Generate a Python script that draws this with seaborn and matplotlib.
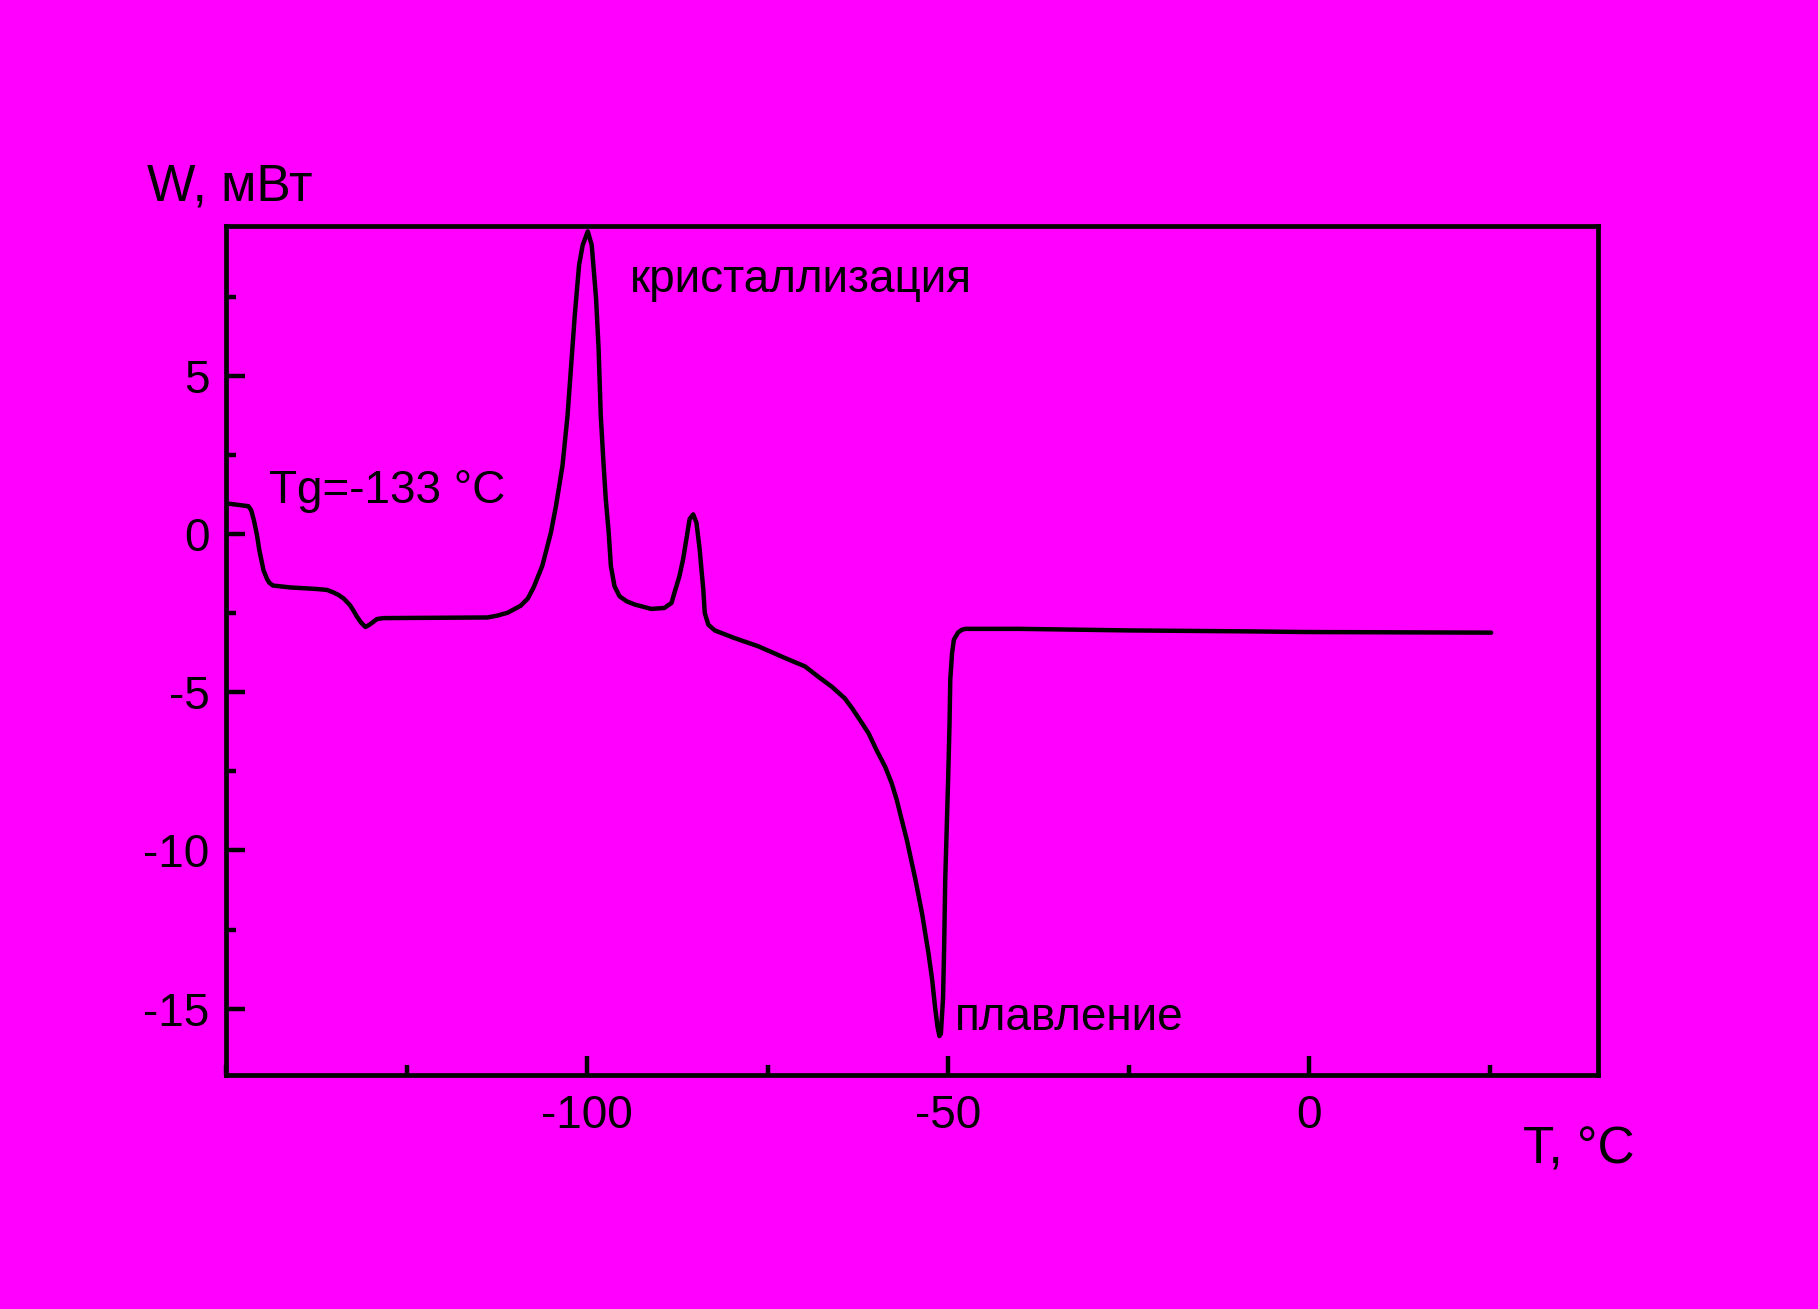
import matplotlib
matplotlib.use("Agg")
import numpy as np
import pandas as pd
import matplotlib.pyplot as plt
import seaborn as sns
from matplotlib.ticker import MultipleLocator

# DSC curve (T in °C, W in mW)
temperature = [-150.0, -146.9, -146.5, -146.1, -145.7, -145.4, -145.0, -144.8,
               -144.3, -144.0, -143.5, -141.1, -137.4, -136.0, -135.1, -134.4,
               -133.7, -133.2, -132.8, -132.3, -131.9, -131.3, -130.7, -130.2,
               -129.6, -129.1, -128.2, -113.8, -112.4, -111.0, -110.1, -109.2,
               -108.2, -107.4, -106.2, -105.0, -104.3, -103.4, -102.7, -102.2,
               -101.7, -101.1, -100.6, -99.9, -99.35, -98.75, -98.4, -98.1,
               -97.7, -97.4, -97.0, -96.7, -96.2, -95.5, -94.5, -93.4, -91.1,
               -89.3, -88.3, -87.9, -87.2, -86.7, -86.25, -85.8, -85.3, -84.85,
               -84.4, -84.2, -83.9, -83.7, -83.2, -82.3, -79.6, -76.3, -72.6,
               -69.8, -68.0, -66.1, -64.3, -63.3, -61.9, -61.0, -59.9, -58.7,
               -57.8, -57.1, -56.4, -55.7, -55.0, -54.5, -53.6, -52.7, -52.2,
               -51.8, -51.45, -51.2, -51.0, -50.7, -50.55, -50.4, -50.0, -49.8,
               -49.7, -49.45, -49.2, -48.6, -48.1, -47.6, -40.2, -24.9, -8.2,
               -0.8, 25.2]
power = [0.98, 0.89, 0.76, 0.41, -0.03, -0.48, -0.92, -1.14,
         -1.42, -1.53, -1.62, -1.68, -1.73, -1.76, -1.84, -1.92,
         -2.03, -2.15, -2.25, -2.43, -2.59, -2.79, -2.93, -2.87,
         -2.77, -2.68, -2.65, -2.63, -2.57, -2.48, -2.37, -2.26,
         -2.03, -1.68, -1.0, 0.06, 0.9, 2.17, 3.76, 5.34,
         6.93, 8.52, 9.15, 9.58, 9.15, 7.46, 5.87, 3.76,
         2.17, 1.1, 0.05, -1.0, -1.64, -1.96, -2.12, -2.22, -2.36,
         -2.33, -2.17, -1.85, -1.32, -0.79, -0.16, 0.48, 0.63, 0.37,
         -0.48, -1.0, -1.75, -2.49, -2.86, -3.04, -3.28, -3.54, -3.91,
         -4.18, -4.5, -4.82, -5.19, -5.5, -5.98, -6.3, -6.83, -7.36,
         -7.88, -8.41, -9.05, -9.68, -10.42, -10.95, -12.0, -13.28, -14.1,
         -14.97, -15.6, -15.87, -15.8, -14.66, -13.07, -10.95, -7.78, -5.97,
         -4.6, -3.75, -3.33, -3.1, -3.02, -2.99, -2.99, -3.04, -3.07,
         -3.09, -3.11]

x_ticks = [-100, -50, 0]
y_ticks = [-15, -10, -5, 0, 5]

annotations = [
    ("Tg=-133 °C", -144.1, 1.0),
    ("кристаллизация", -94.0, 7.65),
    ("плавление", -49.0, -15.67),
]

bg = "#FF00FF"

sns.set_style("ticks")
plt.rcParams['font.family'] = ['Liberation Sans', 'DejaVu Sans']
plt.rcParams['axes.unicode_minus'] = False

df = pd.DataFrame({"T": temperature, "W": power})

fig = plt.figure(figsize=(18.18, 13.09), dpi=100, facecolor=bg)
ax = fig.add_axes([0.1243, 0.1788, 0.7547, 0.6485])
ax.set_facecolor(bg)

sns.lineplot(data=df, x="T", y="W", ax=ax, sort=False, color="black",
             linewidth=3.2, estimator=None)

ax.set_xlim(-150, 40)
ax.set_ylim(-17.1, 9.75)
ax.set_xticks(x_ticks)
ax.set_yticks(y_ticks)
ax.xaxis.set_minor_locator(MultipleLocator(25))
ax.yaxis.set_minor_locator(MultipleLocator(2.5))
ax.tick_params(which='both', direction='in', width=3.2, colors='black',
               top=False, right=False)
ax.tick_params(which='major', length=13.5, labelsize=33)
ax.tick_params(which='minor', length=7)
ax.tick_params(axis='x', which='major', pad=14)
ax.tick_params(axis='y', which='major', pad=12)
ax.set_xlabel("")
ax.set_ylabel("")
for side in ax.spines.values():
    side.set_visible(True)
    side.set_linewidth(3.4)
    side.set_color("black")

for label, tx, ty in annotations:
    ax.text(tx, ty, label, fontsize=33, color="black", ha="left", va="baseline")

fig.text(0.081, 0.8465, "W, мВт", fontsize=37, color="black", va="baseline")
fig.text(0.838, 0.1115, "T, °C", fontsize=37, color="black", va="baseline")

fig.savefig("out.png", dpi=100, facecolor=bg)
